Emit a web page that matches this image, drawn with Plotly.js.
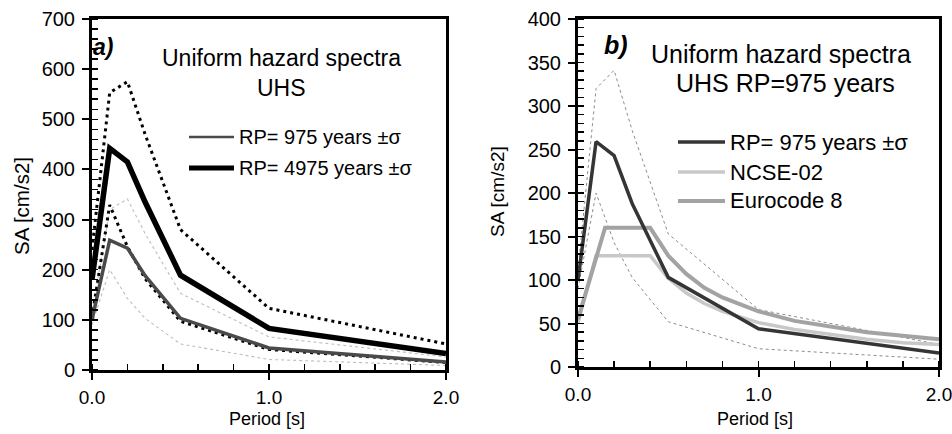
<!DOCTYPE html>
<html>
<head>
<meta charset="utf-8">
<script src="https://cdn.plot.ly/plotly-3.0.1.min.js"></script>
<style>
html,body{margin:0;padding:0;background:#fff;}
#chart{width:952px;height:434px;}
</style>
</head>
<body>
<div id="chart"></div>
<script>
// ---- data ----
const periodUHS = [0, 0.1, 0.2, 0.3, 0.5, 1.0, 2.0];
const rp975Mean  = [100, 259, 243, 188, 103, 44, 16];
const rp975Plus  = [112, 320, 341, 272, 153, 66, 26];
const rp975Minus = [90, 200, 143, 103, 52, 21, 9];
const rp4975Mean  = [180, 442, 415, 335, 189, 83, 33];
const rp4975Plus  = [240, 553, 575, 470, 280, 123, 52];
const rp4975Minus = [105, 329, 246, 182, 97, 41, 15];

const periodNCSE = [0, 0.1, 0.4, 0.5, 0.6, 0.7, 0.8, 0.9, 1.0, 1.2, 1.4, 1.6, 1.8, 2.0];
const ncse02     = [51, 128, 128, 102, 85, 73, 64, 57, 51, 43, 37, 32, 28, 26];
const periodEC8  = [0, 0.15, 0.4, 0.5, 0.6, 0.7, 0.8, 1.0, 1.2, 1.4, 1.6, 1.8, 2.0];
const eurocode8  = [55, 160, 160, 128, 107, 91, 80, 64, 53, 46, 40, 36, 32];

const legendA = ['RP= 975 years \u00b1\u03c3', 'RP= 4975 years \u00b1\u03c3'];
const legendB = ['RP= 975 years \u00b1\u03c3', 'NCSE-02', 'Eurocode 8'];

// ---- geometry helpers (pixels -> paper) ----
const W = 952, H = 434;
const px = v => v / W;
const py = v => 1 - v / H;
const FONT = 'Liberation Sans, Arial, sans-serif';

const C975 = '#4a4a4a', CNCSE = '#c8c8c8', CEC8 = '#a3a3a3';

function tr(x, y, xa, ya, color, width, dash) {
  return {x: x, y: y, xaxis: xa, yaxis: ya, type: 'scatter', mode: 'lines',
          line: {color: color, width: width, dash: dash || 'solid'},
          showlegend: false, hoverinfo: 'skip'};
}

const data = [
  // panel a
  tr(periodUHS, rp975Plus, 'x', 'y', '#bdbdbd', 1.1, 'dot'),
  tr(periodUHS, rp975Minus, 'x', 'y', '#bdbdbd', 1.1, 'dot'),
  tr(periodUHS, rp4975Plus, 'x', 'y', '#000', 3, '3px,4px'),
  tr(periodUHS, rp4975Minus, 'x', 'y', '#000', 3, '3px,4px'),
  tr(periodUHS, rp975Mean, 'x', 'y', C975, 3.5),
  tr(periodUHS, rp4975Mean, 'x', 'y', '#000', 5.5),
  // panel b
  tr(periodUHS, rp975Plus, 'x2', 'y2', '#8c8c8c', 1, 'dot'),
  tr(periodUHS, rp975Minus, 'x2', 'y2', '#8c8c8c', 1, 'dot'),
  tr(periodNCSE, ncse02, 'x2', 'y2', CNCSE, 3.5),
  tr(periodEC8, eurocode8, 'x2', 'y2', CEC8, 4),
  tr(periodUHS, rp975Mean, 'x2', 'y2', '#353535', 3.5)
];

function xaxisDef(dom, anchor) {
  return {domain: dom, anchor: anchor, range: [0, 2], dtick: 1, tick0: 0, tickformat: '.1f',
          ticks: 'outside', ticklen: 7, tickwidth: 2, tickcolor: '#000',
          ticklabelstandoff: 1, ticklabeloverflow: 'allow',
          showline: true, linecolor: '#000', linewidth: 3, mirror: true,
          showgrid: false, zeroline: false, fixedrange: true,
          tickfont: {family: FONT, size: 19, color: '#000'},
          minor: {dtick: 0.2, ticks: 'inside', ticklen: 6, tickwidth: 1.5, tickcolor: '#000', showgrid: false}};
}
function yaxisDef(dom, anchor, max, dt, mdt) {
  return {domain: dom, anchor: anchor, range: [0, max], dtick: dt, tick0: 0,
          ticks: 'outside', ticklen: 7, tickwidth: 2, tickcolor: '#000',
          ticklabelstandoff: 3, ticklabeloverflow: 'allow',
          showline: true, linecolor: '#000', linewidth: 3, mirror: true,
          showgrid: false, zeroline: false, fixedrange: true,
          tickfont: {family: FONT, size: 20, color: '#000'},
          minor: {dtick: mdt, ticks: 'inside', ticklen: 6, tickwidth: 1.5, tickcolor: '#000', showgrid: false}};
}

function txt(text, x, y, size, opts) {
  return Object.assign({text: text, xref: 'paper', yref: 'paper', x: px(x), y: py(y),
          xanchor: 'center', yanchor: 'middle', showarrow: false,
          font: {family: FONT, size: size, color: '#000'}}, opts || {});
}

const annotations = [
  txt('<b><i>a)</i></b>', 91, 47, 23, {xanchor: 'left'}),
  txt('Uniform hazard spectra', 281, 58, 23),
  txt('UHS', 281, 88, 23),
  txt(legendA[0], 237, 137, 20, {xanchor: 'left'}),
  txt(legendA[1], 237, 168, 20, {xanchor: 'left'}),
  txt('Period [s]', 267, 419, 18),
  txt('SA [cm/s2]', 21, 206, 20.5, {textangle: -90}),

  txt('<b><i>b)</i></b>', 602, 45, 25, {xanchor: 'left'}),
  txt('Uniform hazard spectra', 781, 54, 25),
  txt('UHS RP=975 years', 785, 83, 25),
  txt(legendB[0], 728, 142, 22, {xanchor: 'left'}),
  txt(legendB[1], 728, 172, 22, {xanchor: 'left'}),
  txt(legendB[2], 728, 201, 22, {xanchor: 'left'}),
  txt('Period [s]', 755, 419, 18),
  txt('SA [cm/s2]', 497, 192, 19, {textangle: -90})
];

function legLine(x0, x1, y, color, width) {
  return {type: 'line', xref: 'paper', yref: 'paper', x0: px(x0), x1: px(x1), y0: py(y), y1: py(y),
          line: {color: color, width: width}};
}
const shapes = [
  legLine(189, 234, 137, C975, 2.5),
  legLine(189, 234, 168, '#000', 5),
  legLine(678, 725, 142, '#353535', 3.5),
  legLine(678, 725, 172, CNCSE, 3.5),
  legLine(678, 725, 201, CEC8, 4)
];

const layout = {
  width: W, height: H,
  margin: {l: 0, r: 0, t: 0, b: 0},
  paper_bgcolor: '#fff', plot_bgcolor: '#fff',
  showlegend: false,
  xaxis: xaxisDef([px(92), px(446)], 'y'),
  yaxis: yaxisDef([py(370), py(19)], 'x', 700, 100, 20),
  xaxis2: xaxisDef([px(578), px(939)], 'y2'),
  yaxis2: yaxisDef([py(367), py(19)], 'x2', 400, 50, 10),
  annotations: annotations,
  shapes: shapes
};

Plotly.newPlot('chart', data, layout, {displayModeBar: false, staticPlot: true});
</script>
</body>
</html>
